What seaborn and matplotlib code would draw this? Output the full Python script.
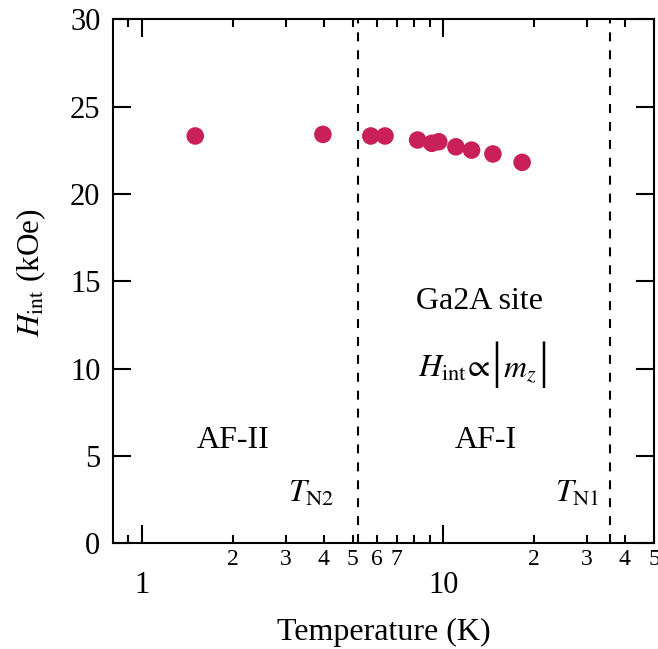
import matplotlib
matplotlib.use("Agg")
import matplotlib.pyplot as plt
import seaborn as sns
import pandas as pd
from matplotlib.ticker import FixedLocator, FixedFormatter, NullLocator
from matplotlib.offsetbox import TextArea, HPacker, AnnotationBbox

# ---- data ----
temperature = [1.50, 3.98, 5.74, 6.40, 8.21, 9.15, 9.65, 11.0, 12.4, 14.6, 18.25]
h_int = [23.33, 23.42, 23.33, 23.33, 23.10, 22.91, 23.00, 22.71, 22.52, 22.30, 21.82]
t_n2 = 5.2
t_n1 = 35.8
major_ticks = [1, 10]
major_labels = ["1", "10"]
minor_ticks = [0.9, 2, 3, 4, 5, 6, 7, 8, 9, 20, 30, 40, 50]
minor_labels = ["", "2", "3", "4", "5", "6", "7", "", "", "2", "3", "4", "5"]
y_ticks = [0, 5, 10, 15, 20, 25, 30]

df = pd.DataFrame({"T": temperature, "H": h_int})

sns.set_style("ticks")
plt.rcParams["font.family"] = ["Liberation Serif", "DejaVu Serif"]
plt.rcParams["mathtext.fontset"] = "stix"
for k in ("text.color", "axes.labelcolor", "xtick.color", "ytick.color", "axes.edgecolor"):
    plt.rcParams[k] = "black"

fig = plt.figure(figsize=(6.58, 6.49), dpi=100)
ax = fig.add_axes([0.1717, 0.1626, 0.9939 - 0.1717, 0.97 - 0.1626])

sns.scatterplot(data=df, x="T", y="H", ax=ax, s=160, color="#C9205A",
                edgecolor="none", linewidth=0, zorder=3, legend=False)

for tv in (t_n2, t_n1):
    ax.axvline(tv, color="black", lw=1.5, ls=(0, (4.3, 4.3)), zorder=2)

ax.set_xscale("log")
ax.set_xlim(0.8, 50)
ax.set_ylim(0, 30)

ax.xaxis.set_major_locator(FixedLocator(major_ticks))
ax.xaxis.set_major_formatter(FixedFormatter(major_labels))
ax.xaxis.set_minor_locator(FixedLocator(minor_ticks))
ax.xaxis.set_minor_formatter(FixedFormatter(minor_labels))
ax.set_yticks(y_ticks)
ax.yaxis.set_minor_locator(NullLocator())

ax.tick_params(axis="x", which="major", direction="in", length=13, width=1.5,
               top=True, bottom=True, labelsize=22, pad=20, colors="black")
ax.tick_params(axis="x", which="minor", direction="in", length=6, width=1.5,
               top=True, bottom=True, labelsize=17, pad=4, colors="black")
ax.tick_params(axis="y", which="major", direction="in", length=13, width=1.5,
               left=True, right=True, labelsize=22, pad=9, colors="black")

for sp in ax.spines.values():
    sp.set_visible(True)
    sp.set_linewidth(1.5)
    sp.set_color("black")

ax.set_xlabel("Temperature (K)", fontsize=23, labelpad=13, color="black")
ax.set_ylabel(r"$H_{\rm int}$ (kOe)", fontsize=22.5, color="black")
ax.yaxis.set_label_coords(-0.152, 0.516)
ax.yaxis.label.set_va("center")

tkw = dict(transform=ax.transAxes, ha="center", va="center", fontsize=23, color="black")
ax.text(0.678, 0.461, "Ga2A site", **tkw)
ax.text(0.222, 0.196, "AF-II", **tkw)
ax.text(0.689, 0.196, "AF-I", **tkw)
ax.text(0.366, 0.0945, r"$T_{\rm N2}$", **tkw)
ax.text(0.859, 0.0945, r"$T_{\rm N1}$", **tkw)

# H_int ∝ |m_z| with tall bars
small = dict(fontsize=23, color="black")
bar = dict(fontsize=36, color="black", family="Liberation Serif")
parts = [TextArea(r"$H_{\rm int}\!\propto$", textprops=small),
         TextArea("|", textprops=bar),
         TextArea(r"$m_z$", textprops=small),
         TextArea("|", textprops=bar)]
box = HPacker(children=parts, align="baseline", pad=0, sep=1)
ab = AnnotationBbox(box, (0.684, 0.341), xycoords="axes fraction",
                    frameon=False, box_alignment=(0.5, 0.5))
ax.add_artist(ab)

fig.savefig("out.png", dpi=100)
